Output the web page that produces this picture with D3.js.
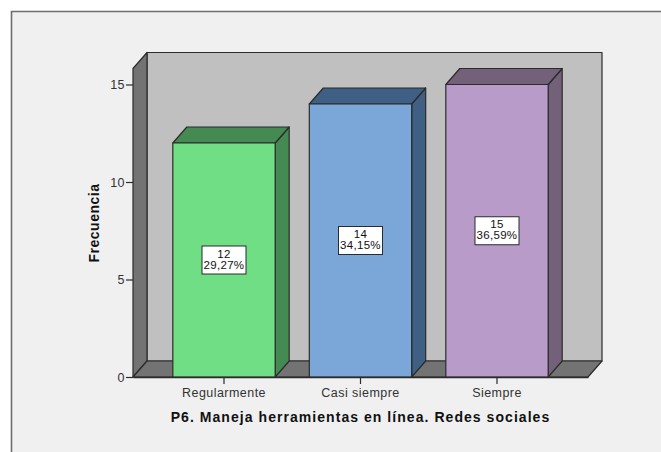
<!DOCTYPE html>
<html><head><meta charset="utf-8">
<script src="https://cdn.jsdelivr.net/npm/d3@7/dist/d3.min.js"></script>
<style>html,body{margin:0;padding:0;background:#fff}svg{display:block}</style>
</head><body><svg id="c" width="661" height="452"></svg>
<script>
const categories = ["Regularmente","Casi siempre","Siempre"];
const counts = [12,14,15];
const percents = ["29,27%","34,15%","36,59%"];
const frontColors = ["#70de85","#7aa7d8","#b89bc9"];
const sideColors = ["#458a53","#3f5f85","#736079"];
const yTicks = [0,5,10,15];
const xTitle = "P6. Maneja herramientas en línea. Redes sociales";
const yTitle = "Frecuencia";

const svg = d3.select("#c");
const font = "Liberation Sans, Arial, sans-serif";
const W = 661, H = 452;
const dx = 14, dy = -16;
const x0 = 133, x1 = 588, yBase = 377;
const x = d3.scaleBand().domain(categories).range([x0,x1]).paddingInner(0.25).paddingOuter(0.2917);
const y = d3.scaleLinear().domain([0,15]).range([yBase,84.5]);
const yTop = 68.5;
const line = "#2b2b2b";
const poly = (pts,fill) => svg.append("polygon").attr("points",pts.map(p=>p.join(",")).join(" "))
  .attr("fill",fill).attr("stroke",line).attr("stroke-width",1.2).attr("stroke-linejoin","round");

// frame
svg.append("rect").attr("x",11.5).attr("y",11.5).attr("width",W).attr("height",H).attr("fill","#f0f0f0");
svg.append("path").attr("d",`M11.5,${H}V11.5H${W}`).attr("fill","none").attr("stroke","#6e6e6e").attr("stroke-width",1.6);

// back wall, left wall, floor
poly([[x0+dx,yTop+dy],[x1+dx,yTop+dy],[x1+dx,yBase+dy],[x0+dx,yBase+dy]],"#c0c0c0");
poly([[x0,yTop],[x0+dx,yTop+dy],[x0+dx,yBase+dy],[x0,yBase]],"#737373");
poly([[x0,yBase],[x0+dx,yBase+dy],[x1+dx,yBase+dy],[x1,yBase]],"#737373");

// bars
categories.forEach((c,i)=>{
  const l=x(c), r=l+x.bandwidth(), t=y(counts[i]);
  poly([[r,t],[r+dx,t+dy],[r+dx,yBase+dy],[r,yBase]],sideColors[i]);
  poly([[l,t],[l+dx,t+dy],[r+dx,t+dy],[r,t]],sideColors[i]);
  poly([[l,t],[r,t],[r,yBase],[l,yBase]],frontColors[i]);
  const cx=l+x.bandwidth()/2, cy=y(counts[i]/2);
  svg.append("rect").attr("x",cx-22).attr("y",cy-14).attr("width",44).attr("height",28)
    .attr("fill","#fff").attr("stroke",line).attr("stroke-width",1);
  svg.append("text").attr("x",cx).attr("y",cy-2.5).attr("text-anchor","middle").attr("font-family",font).attr("font-size",11.5).attr("letter-spacing",0.3).attr("fill","#111").text(counts[i]);
  svg.append("text").attr("x",cx).attr("y",cy+8.5).attr("text-anchor","middle").attr("font-family",font).attr("font-size",11.5).attr("letter-spacing",0.3).attr("fill","#111").text(percents[i]);
});

// axes
const ay = svg.append("g").attr("transform",`translate(${x0},0)`)
  .call(d3.axisLeft(y).tickValues(yTicks).tickSizeInner(7).tickSizeOuter(0).tickPadding(1).tickFormat(d3.format("d")));
ay.select(".domain").remove();
const ax = svg.append("g").attr("transform",`translate(0,${yBase})`)
  .call(d3.axisBottom(x).tickSizeInner(7).tickSizeOuter(0).tickPadding(4));
ax.select(".domain").attr("stroke",line).attr("stroke-width",1.4);
svg.selectAll(".tick line").attr("stroke",line).attr("stroke-width",1.2);
svg.selectAll(".tick text").attr("font-family",font).attr("font-size",12.5).attr("letter-spacing",0.45).attr("fill","#333");

svg.append("text").attr("x",360.5).attr("y",421.5).attr("text-anchor","middle").attr("font-family",font).attr("font-size",14).attr("letter-spacing",1.05).attr("font-weight","bold").attr("fill","#111").text(xTitle);
svg.append("text").attr("transform","translate(99,223) rotate(-90)").attr("text-anchor","middle").attr("font-family",font).attr("font-size",14).attr("letter-spacing",0.5).attr("font-weight","bold").attr("fill","#111").text(yTitle);
</script></body></html>
